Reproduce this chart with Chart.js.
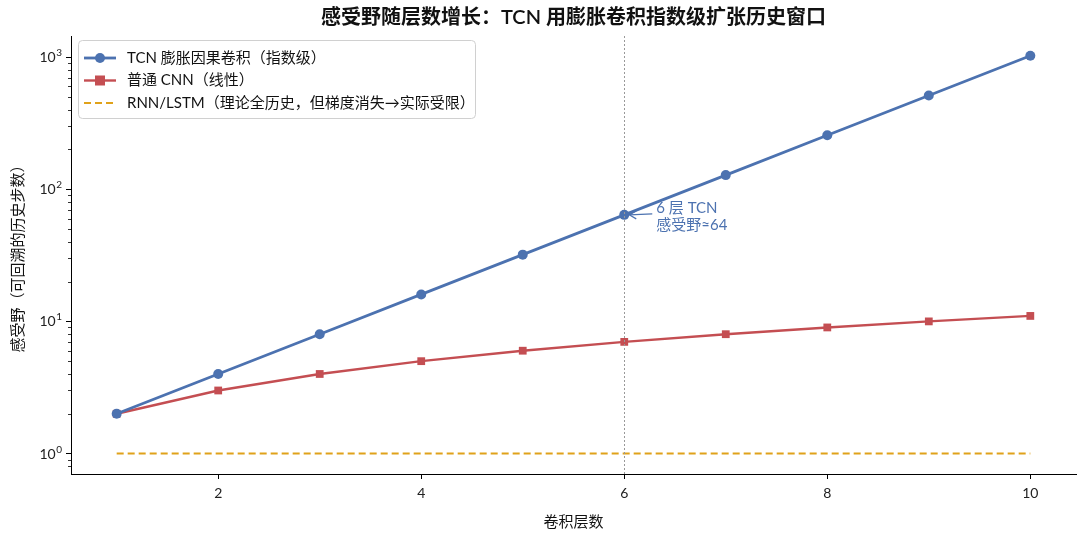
<!DOCTYPE html>
<html>
<head>
<meta charset="utf-8">
<script src="https://cdn.jsdelivr.net/npm/chart.js@4"></script>
<style>
  html, body { margin: 0; padding: 0; background: #fff; }
  #wrap { width: 1085px; height: 535px; }
</style>
</head>
<body>
<div id="wrap"><canvas id="grafico" width="1085" height="535"></canvas></div>
<script>
// dados
const camadas = [1, 2, 3, 4, 5, 6, 7, 8, 9, 10];
const tcn = [2, 4, 8, 16, 32, 64, 128, 256, 512, 1024];
const cnn = [2, 3, 4, 5, 6, 7, 8, 9, 10, 11];
const rnn = [1, 1, 1, 1, 1, 1, 1, 1, 1, 1];
const nomes = ["TCN 膨胀因果卷积（指数级）", "普通 CNN（线性）", "RNN/LSTM（理论全历史，但梯度消失→实际受限）"];
const xTicks = [2, 4, 6, 8, 10];
const yTicks = [1, 10, 100, 1000];
const yTickBase = "10";
const yTickExp = ["0", "1", "2", "3"];
const yMinor = [0.8, 0.9, 2, 3, 4, 5, 6, 7, 8, 9, 20, 30, 40, 50, 60, 70, 80, 90, 200, 300, 400, 500, 600, 700, 800, 900];
const anotacao = ["6 层 TCN", "感受野≈64"];
const pontoAnot = { x: 6, y: 64 };

const FONTE = 'Lato, "Noto Sans CJK SC", sans-serif';
const AZUL = "#4c72b0";
const VERMELHO = "#c44e52";
const DOURADO = "#e0a21a";

function pts(ys) {
  return camadas.map((c, i) => ({ x: c, y: ys[i] }));
}

// linha vertical, ticks menores, rótulos 10^n, anotação e legenda
const extras = {
  id: "extras",
  afterDatasetsDraw(chart) {
    const c = chart.ctx;
    const xs = chart.scales.x, ys = chart.scales.y;
    const area = chart.chartArea;

    // linha pontilhada em x=6
    const px = Math.round(xs.getPixelForValue(6)) + 0.5;
    c.save();
    c.strokeStyle = "#999";
    c.lineWidth = 1;
    c.setLineDash([2, 2]);
    c.beginPath();
    c.moveTo(px, area.top);
    c.lineTo(px, area.bottom);
    c.stroke();
    c.restore();

    // ticks menores no eixo y
    c.save();
    c.strokeStyle = "#000";
    c.lineWidth = 0.8;
    yMinor.forEach(v => {
      const py = Math.round(ys.getPixelForValue(v)) + 0.5;
      c.beginPath();
      c.moveTo(area.left - 3, py);
      c.lineTo(area.left, py);
      c.stroke();
    });
    c.restore();

    // rótulos do eixo y com expoente
    c.save();
    c.fillStyle = "#222";
    c.textAlign = "right";
    c.textBaseline = "alphabetic";
    yTicks.forEach((v, i) => {
      const py = ys.getPixelForValue(v);
      const right = area.left - 9;
      c.font = "10px " + FONTE;
      const ew = c.measureText(yTickExp[i]).width;
      c.fillText(yTickExp[i], right, py - 1);
      c.font = "14px " + FONTE;
      c.fillText(yTickBase, right - ew - 0.5, py + 5);
    });
    c.restore();

    // anotação
    const ax = xs.getPixelForValue(pontoAnot.x);
    const ay = ys.getPixelForValue(pontoAnot.y);
    c.save();
    c.strokeStyle = AZUL;
    c.fillStyle = AZUL;
    c.lineWidth = 1.2;
    c.beginPath();
    c.moveTo(ax + 28, ay - 1);
    c.lineTo(ax + 5, ay);
    c.stroke();
    c.beginPath();
    c.moveTo(ax + 12, ay - 4);
    c.lineTo(ax + 5, ay);
    c.lineTo(ax + 12, ay + 4);
    c.stroke();
    c.font = "15px " + FONTE;
    c.textBaseline = "middle";
    c.textAlign = "left";
    c.fillText(anotacao[0], ax + 32, ay - 7);
    c.fillText(anotacao[1], ax + 32, ay + 10);
    c.restore();

    // legenda
    const lx = area.left + 7, ly = area.top + 4, lw = 397, lh = 78;
    c.save();
    c.fillStyle = "rgba(255,255,255,0.85)";
    c.strokeStyle = "#d0d0d0";
    c.lineWidth = 1;
    c.beginPath();
    c.roundRect(lx + 0.5, ly + 0.5, lw, lh, 4);
    c.fill();
    c.stroke();
    c.font = "15px " + FONTE;
    c.textBaseline = "middle";
    chart.data.datasets.forEach((ds, i) => {
      const y = ly + 18 + i * 22.5;
      c.strokeStyle = ds.borderColor;
      c.lineWidth = ds.borderWidth;
      c.setLineDash(ds.borderDash || []);
      c.beginPath();
      c.moveTo(lx + 6, y);
      c.lineTo(lx + 38, y);
      c.stroke();
      c.setLineDash([]);
      c.fillStyle = ds.borderColor;
      if (ds.pointStyle === "circle") {
        c.beginPath();
        c.arc(lx + 22, y, 5, 0, Math.PI * 2);
        c.fill();
      } else if (ds.pointStyle === "rect") {
        c.fillRect(lx + 17, y - 5, 10, 10);
      }
      c.fillStyle = "#111";
      c.fillText(ds.label, lx + 49, y);
    });
    c.restore();
  }
};

const ctx = document.getElementById("grafico").getContext("2d");
const grafico = new Chart(ctx, {
  type: "line",
  data: {
    datasets: [
      {
        label: nomes[0],
        data: pts(tcn),
        borderColor: AZUL,
        backgroundColor: AZUL,
        borderWidth: 2.8,
        pointStyle: "circle",
        pointRadius: 5,
        pointBorderWidth: 0
      },
      {
        label: nomes[1],
        data: pts(cnn),
        borderColor: VERMELHO,
        backgroundColor: VERMELHO,
        borderWidth: 2.4,
        pointStyle: "rect",
        pointRadius: 5.5,
        pointBorderWidth: 0
      },
      {
        label: nomes[2],
        data: pts(rnn),
        borderColor: DOURADO,
        backgroundColor: DOURADO,
        borderWidth: 2,
        borderDash: [7, 4],
        pointStyle: false,
        pointRadius: 0
      }
    ]
  },
  options: {
    responsive: false,
    animation: false,
    layout: { padding: { left: 0, right: 9, top: 0, bottom: 0 } },
    plugins: {
      legend: { display: false },
      tooltip: { enabled: false },
      title: {
        display: true,
        fullSize: false,
        text: "感受野随层数增长：TCN 用膨胀卷积指数级扩张历史窗口",
        color: "#111",
        font: { family: FONTE, size: 20, weight: "600" },
        padding: { top: 6, bottom: 6 }
      }
    },
    scales: {
      x: {
        type: "linear",
        min: 0.55,
        max: 10.45,
        afterBuildTicks: s => { s.ticks = xTicks.map(v => ({ value: v })); },
        afterFit: s => { s.height = 61; },
        ticks: { color: "#222", font: { family: FONTE, size: 14 }, padding: 6 },
        grid: { drawOnChartArea: false, tickLength: 5, tickColor: "#000" },
        border: { display: true, color: "#000", width: 1 },
        title: {
          display: true,
          text: "卷积层数",
          color: "#111",
          font: { family: FONTE, size: 15 },
          padding: { top: 2, bottom: 4 }
        }
      },
      y: {
        type: "logarithmic",
        min: 0.707,
        max: 1445,
        afterBuildTicks: s => { s.ticks = yTicks.map(v => ({ value: v })); },
        afterFit: s => { s.width = 71; },
        ticks: { display: false },
        grid: { drawOnChartArea: false, tickLength: 5, tickColor: "#000" },
        border: { display: true, color: "#000", width: 1 },
        title: {
          display: true,
          text: "感受野（可回溯的历史步数）",
          color: "#111",
          font: { family: FONTE, size: 15 },
          padding: { top: 9, bottom: 4 }
        }
      }
    }
  },
  plugins: [extras]
});
</script>
</body>
</html>
